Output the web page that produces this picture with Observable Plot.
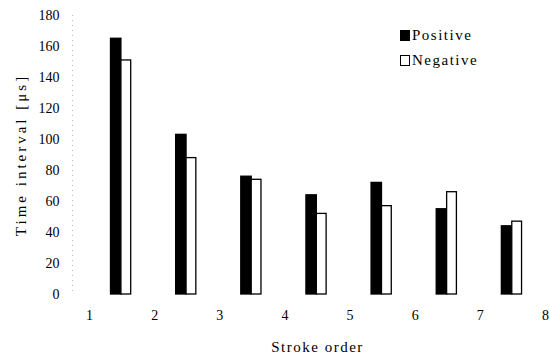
<!DOCTYPE html>
<html>
<head>
<meta charset="utf-8">
<script src="https://cdn.jsdelivr.net/npm/d3@7"></script>
<script src="https://cdn.jsdelivr.net/npm/@observablehq/plot@0.6"></script>
<style>
  html, body { margin: 0; padding: 0; background: #fff; }
  #chart { position: relative; width: 550px; height: 354px; }
  .legend { position: absolute; left: 400px; top: 23px; font: 15px "Liberation Serif", serif; letter-spacing: 1.5px; color: #000; line-height: 25px; }
  .legend div { display: flex; align-items: center; }
  .sw { display: inline-block; width: 10px; height: 11px; box-sizing: border-box; border: 1.5px solid #000; margin-right: 2px; }
</style>
</head>
<body>
<div id="chart"></div>
<script>
// Time interval between successive return strokes, by polarity
const strokeOrder = [1, 2, 3, 4, 5, 6, 7];
const positive = [165, 103, 76, 64, 72, 55, 44];
const negative = [151, 88, 74, 52, 57, 66, 47];
const series = [
  {name: "Positive", fill: "#000"},
  {name: "Negative", fill: "#fff"}
];
const xTicks = [1, 2, 3, 4, 5, 6, 7, 8];
const yTicks = [0, 20, 40, 60, 80, 100, 120, 140, 160, 180];

// each pair of bars sits in the gap to the right of its stroke number
const rows = [];
strokeOrder.forEach((s, i) => {
  rows.push({series: "Positive", x1: s + 0.33, x2: s + 0.49, value: positive[i]});
  rows.push({series: "Negative", x1: s + 0.49, x2: s + 0.64, value: negative[i]});
});

const serif = "'Liberation Serif', 'Times New Roman', serif";

const chart = Plot.plot({
  width: 550,
  height: 354,
  marginLeft: 89,
  marginRight: 5,
  marginTop: 15,
  marginBottom: 60,
  style: {fontFamily: serif, fontSize: "14px", color: "#000", background: "#fff"},
  x: {domain: [1, 8]},
  y: {domain: [0, 180]},
  marks: [
    // faint, broken vertical axis line
    Plot.ruleX([1], {dx: -17, stroke: "#bbb", strokeDasharray: "1,4", strokeWidth: 1}),
    Plot.rectY(rows, {
      x1: "x1", x2: "x2", y: "value",
      fill: d => d.series === "Positive" ? "#000" : "#fff",
      stroke: "#000", strokeWidth: 1.3
    }),
    Plot.axisY({
      ticks: yTicks, tickSize: 0, tickPadding: 30,
      label: "Time interval [μs]", labelAnchor: "center", labelArrow: false, labelOffset: 74
    }),
    Plot.axisX({
      ticks: xTicks, tickSize: 0, tickPadding: 16, tickFormat: d3.format("d"),
      label: "Stroke order", labelAnchor: "center", labelArrow: false, labelOffset: 57
    })
  ]
});

const host = document.getElementById("chart");
host.appendChild(chart);

// serif face everywhere; axis titles are widely letter-spaced
d3.select(chart).selectAll("text")
  .attr("font-family", serif).style("font-family", serif).style("font-size", "14px");
d3.select(chart).selectAll("[aria-label='x-axis label'] text")
  .style("letter-spacing", "1.5px").style("font-size", "15px");
d3.select(chart).selectAll("[aria-label='y-axis label'] text")
  .style("letter-spacing", "3px").style("font-size", "15px");

const legend = document.createElement("div");
legend.className = "legend";
for (const s of series) {
  const row = document.createElement("div");
  const sw = document.createElement("span");
  sw.className = "sw";
  sw.style.background = s.fill;
  row.appendChild(sw);
  row.appendChild(document.createTextNode(s.name));
  legend.appendChild(row);
}
host.appendChild(legend);
</script>
</body>
</html>
